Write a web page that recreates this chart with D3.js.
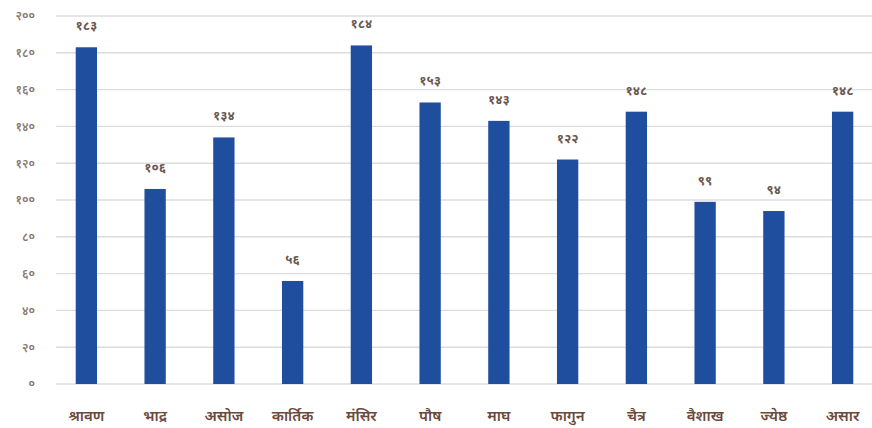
<!DOCTYPE html>
<html><head><meta charset="utf-8">
<script src="https://cdn.jsdelivr.net/npm/d3@7"></script>
<style>body{margin:0;background:#fff}svg{display:block}</style>
</head><body>
<svg id="c" width="872" height="428"></svg>
<script>
const categories = ["श्रावण","भाद्र","असोज","कार्तिक","मंसिर","पौष","माघ","फागुन","चैत्र","वैशाख","ज्येष्ठ","असार"];
const values = [183,106,134,56,184,153,143,122,148,99,94,148];
const yTicks = [0,20,40,60,80,100,120,140,160,180,200];

const digits = "०१२३४५६७८९";
const dev = n => String(n).replace(/[0-9]/g, d => digits[+d]);

const svg = d3.select("#c");
const W = 872, H = 428;
const m = {left: 52, right: -5, top: 16, bottom: 44};
const x = d3.scaleBand().domain(categories).range([m.left, W - m.right]).paddingInner(0.69).paddingOuter(0.345);
const y = d3.scaleLinear().domain([0, 200]).range([H - m.bottom, m.top]);

const font = "'Noto Sans', 'Noto Sans Devanagari', sans-serif";

// gridlines
svg.append("g").selectAll("line").data(yTicks).join("line")
  .attr("x1", m.left + 4).attr("x2", W)
  .attr("y1", d => y(d)).attr("y2", d => y(d))
  .attr("stroke", "#dcdcdc").attr("stroke-width", 1.4);

// y axis labels
const ya = svg.append("g").attr("transform", `translate(${m.left - 17},0)`)
  .call(d3.axisLeft(y).tickValues(yTicks).tickFormat(dev).tickSize(0).tickPadding(0));
ya.select(".domain").remove();
ya.selectAll("text").attr("fill", "#8a7a70").attr("font-size", 12).attr("font-weight", 600).attr("font-family", font);

// bars
svg.append("g").selectAll("rect").data(values).join("rect")
  .attr("x", (d, i) => x(categories[i]))
  .attr("width", x.bandwidth())
  .attr("y", d => y(d))
  .attr("height", d => y(0) - y(d))
  .attr("fill", "#1f4e9f");

// value labels
svg.append("g").selectAll("text").data(values).join("text")
  .attr("x", (d, i) => x(categories[i]) + x.bandwidth() / 2)
  .attr("y", d => y(d) - 17)
  .attr("text-anchor", "middle")
  .attr("font-size", 13).attr("font-weight", 700).attr("font-family", font)
  .attr("fill", "#6a5850")
  .text(dev);

// x axis labels
const xa = svg.append("g").attr("transform", `translate(0,${H - m.bottom + 26})`)
  .call(d3.axisBottom(x).tickSize(0).tickPadding(0));
xa.select(".domain").remove();
xa.selectAll("text").attr("fill", "#6b4a3e").attr("font-size", 15).attr("font-weight", 600).attr("font-family", font);
</script>
</body></html>
